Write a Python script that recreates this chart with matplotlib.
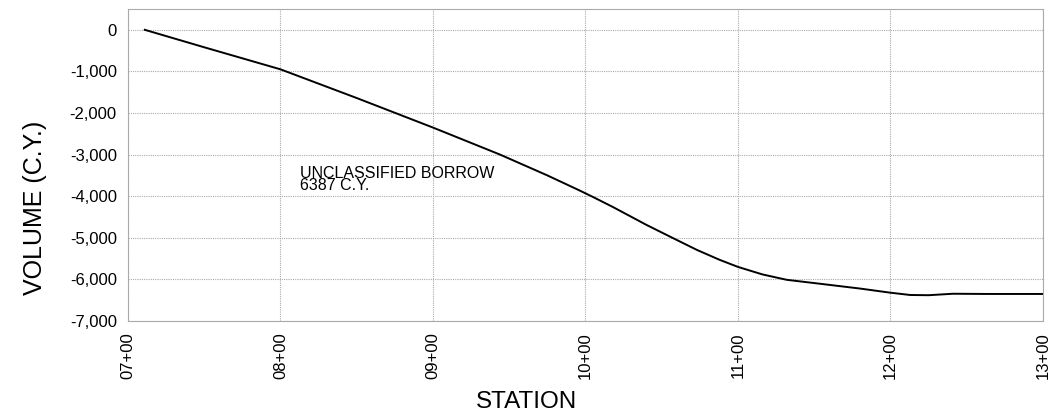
import numpy as np
import matplotlib
matplotlib.use('Agg')
import matplotlib.pyplot as plt

plt.rcParams['font.family'] = ['Liberation Sans', 'DejaVu Sans']

# mass haul curve, station in feet, volume in C.Y.
station = [711, 750, 800, 850, 900, 944, 975, 996, 1005, 1018, 1040, 1057, 1073,
           1088, 1100, 1116, 1132, 1155, 1180, 1200, 1213, 1225, 1241, 1263, 1300]
volume = [0, -420, -950, -1640, -2350, -3000, -3500, -3860, -4020, -4260, -4690,
          -5000, -5290, -5530, -5700, -5880, -6010, -6110, -6220, -6320, -6375,
          -6380, -6345, -6350, -6350]

xticks = [700, 800, 900, 1000, 1100, 1200, 1300]
xticklabels = ['07+00', '08+00', '09+00', '10+00', '11+00', '12+00', '13+00']
yticks = [0, -1000, -2000, -3000, -4000, -5000, -6000, -7000]
yticklabels = ['0', '-1,000', '-2,000', '-3,000', '-4,000', '-5,000', '-6,000', '-7,000']

fig = plt.figure(figsize=(10.55, 4.19), dpi=100)
ax = fig.add_axes([0.1213, 0.2339, 0.8673, 0.7446])

ax.plot(station, volume, color='black', lw=1.4, solid_joinstyle='round')

ax.set_xlim(700, 1300)
ax.set_ylim(-7000, 500)
ax.set_xticks(xticks)
ax.set_xticklabels(xticklabels, rotation=90, fontsize=12)
ax.set_yticks(yticks)
ax.set_yticklabels(yticklabels, fontsize=12)
ax.tick_params(length=0, pad=8)

ax.grid(True, color='#aaaaaa', linestyle=(0, (1, 1)), linewidth=0.8)
for s in ax.spines.values():
    s.set_color('#aaaaaa')
    s.set_linestyle((0, (1, 1)))
    s.set_linewidth(0.8)

ax.text(813, -3600, 'UNCLASSIFIED BORROW\n6387 C.Y.', fontsize=11.5,
        linespacing=0.8, va='center', ha='left')

ax.set_ylabel('VOLUME (C.Y.)', fontsize=18, va='center')
ax.yaxis.set_label_coords(-0.1016, 0.362)
ax.set_xlabel('STATION', fontsize=17.5, va='center')
ax.xaxis.set_label_coords(0.436, -0.26)

fig.savefig('out.png', dpi=100)
